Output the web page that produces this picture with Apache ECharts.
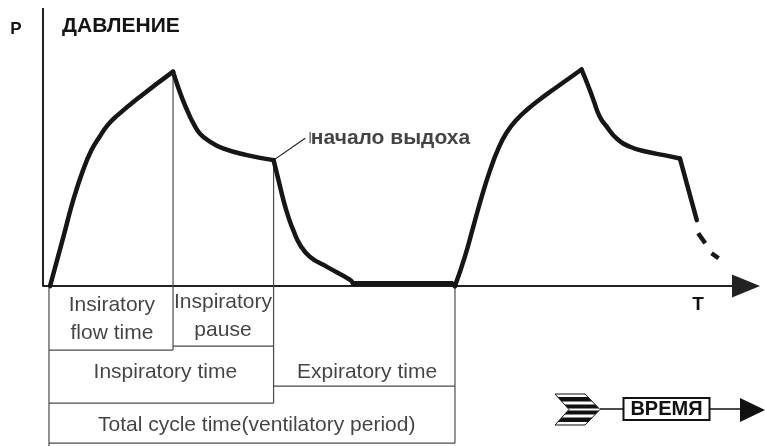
<!DOCTYPE html>
<html><head><meta charset="utf-8">
<script src="https://cdn.jsdelivr.net/npm/echarts@6/dist/echarts.min.js"></script>
<style>html,body{margin:0;padding:0;background:#fff}#c{width:765px;height:446px}</style>
</head><body><div id="c"></div>
<script>
// ---- data (time in arbitrary units, pressure in % of axis height) ----
const cycle1Rise  = [[0.10,0],[0.29,17.7],[0.43,30.9],[0.57,41.7],[0.69,48.9],[0.81,53.9],[0.92,57.9],[1.05,61.2],[1.38,68.1],[1.85,77.1]];
const cycle1Pause = [[1.85,77.1],[1.92,71.7],[1.99,66.9],[2.07,62.1],[2.14,58.5],[2.23,54.9],[2.38,51.9],[2.56,49.5],[2.90,47.1],[3.28,45.3]];
const cycle1Exp   = [[3.28,45.3],[3.35,38.1],[3.42,30.9],[3.49,24.9],[3.56,20.1],[3.66,14.7],[3.80,10.5],[4.04,6.9],[4.37,2.2],[4.41,0.8]];
const baseline    = [[4.41,0.8],[5.83,0.8]];
const cycle2Rise  = [[5.86,0],[6.00,10.5],[6.12,21.3],[6.24,32.1],[6.36,41.7],[6.48,49.6],[6.60,55.4],[6.74,59.9],[6.88,63.3],[7.07,67.2],[7.26,70.7],[7.66,77.9]];
const cycle2Pause = [[7.66,77.9],[7.76,71.7],[7.83,66.9],[7.92,60.9],[8.02,57.3],[8.16,53.1],[8.35,50.1],[8.59,48.3],[8.87,46.9],[9.06,45.9]];
const cycle2Exp   = [[9.06,45.9],[9.30,23.7]];
const cycle2Dash1 = [[9.32,19.0],[9.42,15.4]];
const cycle2Dash2 = [[9.51,11.8],[9.61,10.0]];
const baselineJoin = [[5.83,0.8],[5.86,0]];
const yAxisLine   = [[0,0],[0,100]];

// phase boundaries (time) and annotation rows (below the time axis)
const tBoxLeft = 0.085, tPause = 1.85, tExpStart = 3.28, tCycleEnd = 5.86;
const guideLines = [
  [[tPause,77.1],[tPause,-23.0]],
  [[tExpStart,45.3],[tExpStart,-42.1]],
  [[tCycleEnd,0],[tCycleEnd,-56.5]],
  [[tBoxLeft,-0.7],[tBoxLeft,-57.5]],
  [[tBoxLeft,-23.0],[tPause,-23.0]],
  [[tPause,-21.6],[tExpStart,-21.6]],
  [[tBoxLeft,-42.1],[tExpStart,-42.1]],
  [[tExpStart,-36.0],[tCycleEnd,-36.0]],
  [[tBoxLeft,-56.5],[tCycleEnd,-56.5]],
  [[3.80,55.4],[3.80,51.4]]
];
const leaderLine = [[3.28,45.3],[3.73,53.2]];
const boxLabels = [
  ['Insiratory\nflow time', 0.98, -11.9],
  ['Inspiratory\npause', 2.56, -10.8],
  ['Inspiratory time', 1.74, -30.9],
  ['Expiratory time', 4.61, -30.9],
  ['Total cycle time(ventilatory period)', 3.04, -50.0]
];
const noteLabel = ['начало выдоха', 3.81, 53.2];
const yTitle = 'P', yName = 'ДАВЛЕНИЕ', xTitle = 'T', timeWord = 'ВРЕМЯ';

// ---- chart ----
const FONT = "'Liberation Sans', Arial, Helvetica, sans-serif";
const chart = echarts.init(document.getElementById('c'), null, {renderer:'canvas'});
const curveStyle = {color:'#161616', width:4.5, cap:'round', join:'round'};
function curve(data, extra){
  return Object.assign({type:'line', data, symbol:'none', smooth:0.5,
    lineStyle:curveStyle, silent:true, z:5}, extra||{});
}
const series = [];
guideLines.forEach(d => series.push({type:'line', data:d, symbol:'none', silent:true,
  lineStyle:{color:'#4a4a4a', width:1.2}, z:2}));
series.push({type:'line', data:leaderLine, symbol:'none', silent:true, lineStyle:{color:'#222', width:1.2}, z:3});
series.push({type:'line', data:yAxisLine, symbol:'none', silent:true, lineStyle:{color:'#222', width:2}, z:3});
[cycle1Rise, cycle1Pause, cycle1Exp, cycle2Rise, cycle2Pause].forEach(d => series.push(curve(d)));
series.push(curve(cycle2Exp, {smooth:false}));
series.push(curve(baselineJoin, {smooth:false}));
series.push(curve(baseline, {smooth:false, lineStyle:Object.assign({}, curveStyle, {width:5.5, cap:'butt'})}));
series.push(curve(cycle2Dash1, {smooth:false, lineStyle:Object.assign({}, curveStyle, {cap:'butt'})}));
series.push(curve(cycle2Dash2, {smooth:false, lineStyle:Object.assign({}, curveStyle, {cap:'butt'})}));
series.push({type:'scatter', symbolSize:0, silent:true, z:6,
  data: boxLabels.map(b => ({value:[b[1], b[2]], name:b[0]})),
  label:{show:true, position:'inside', formatter:p => p.name, color:'#141414',
    fontFamily:FONT, fontSize:21, lineHeight:28, align:'center', verticalAlign:'middle'}});
series.push({type:'scatter', symbolSize:0, silent:true, z:6,
  data:[{value:[noteLabel[1], noteLabel[2]], name:noteLabel[0]}],
  label:{show:true, position:'right', distance:0, formatter:p => p.name, color:'#141414',
    fontFamily:FONT, fontSize:21, fontWeight:'bold'}});

// decorative time arrow ("ВРЕМЯ") fletching bands
function chevBand(a, b){
  const L = y => 555 + (y <= 409.5 ? (y-394) : (425-y)) * (14/15.5);
  const R = y => 585 + (y <= 409.5 ? (y-394) : (425-y)) * (15/15.5);
  return {type:'polygon', shape:{points:[[L(a),a],[R(a),a],[R(b),b],[L(b),b]]}, style:{fill:'#111'}};
}
const graphic = [
  {type:'text', style:{text:yTitle, x:16, y:29, font:'bold 17px '+FONT, fill:'#141414', textAlign:'center', textVerticalAlign:'middle'}},
  {type:'text', style:{text:yName, x:62, y:26, font:'bold 21px '+FONT, fill:'#141414', textAlign:'left', textVerticalAlign:'middle'}},
  {type:'text', style:{text:xTitle, x:698, y:305, font:'bold 19px '+FONT, fill:'#141414', textAlign:'center', textVerticalAlign:'middle'}},
  {type:'polygon', shape:{points:[[555,394],[585,394],[600,409.5],[585,425],[555,425],[569,409.5]]}, style:{fill:'#fff', stroke:'#111', lineWidth:1}},
  chevBand(397,401.5), chevBand(404.5,408.5), chevBand(410.5,414.5), chevBand(417.5,422),
  {type:'line', shape:{x1:600, y1:409, x2:623, y2:409}, style:{stroke:'#111', lineWidth:1.5}},
  {type:'rect', shape:{x:623.5, y:398, width:86, height:22}, style:{fill:'#fff', stroke:'#111', lineWidth:2}},
  {type:'text', style:{text:timeWord, x:666.5, y:409.5, font:'bold 20px '+FONT, fill:'#111', textAlign:'center', textVerticalAlign:'middle'}},
  {type:'line', shape:{x1:710, y1:409, x2:742, y2:409}, style:{stroke:'#111', lineWidth:1.5}},
  {type:'polygon', shape:{points:[[740,398],[765,410],[740,422]]}, style:{fill:'#111'}}
];

chart.setOption({
  animation:false,
  backgroundColor:'#fff',
  grid:{left:43, right:19, top:8, bottom:0, containLabel:false},
  xAxis:{type:'value', min:0, max:10,
    axisLine:{show:true, onZero:true, symbol:['none','triangle'], symbolSize:[23,28],
      lineStyle:{color:'#222', width:2}},
    axisTick:{show:false}, axisLabel:{show:false}, splitLine:{show:false}},
  yAxis:{type:'value', min:-57.5, max:100,
    axisLine:{show:false}, axisTick:{show:false}, axisLabel:{show:false}, splitLine:{show:false}},
  series,
  graphic
});
</script></body></html>
